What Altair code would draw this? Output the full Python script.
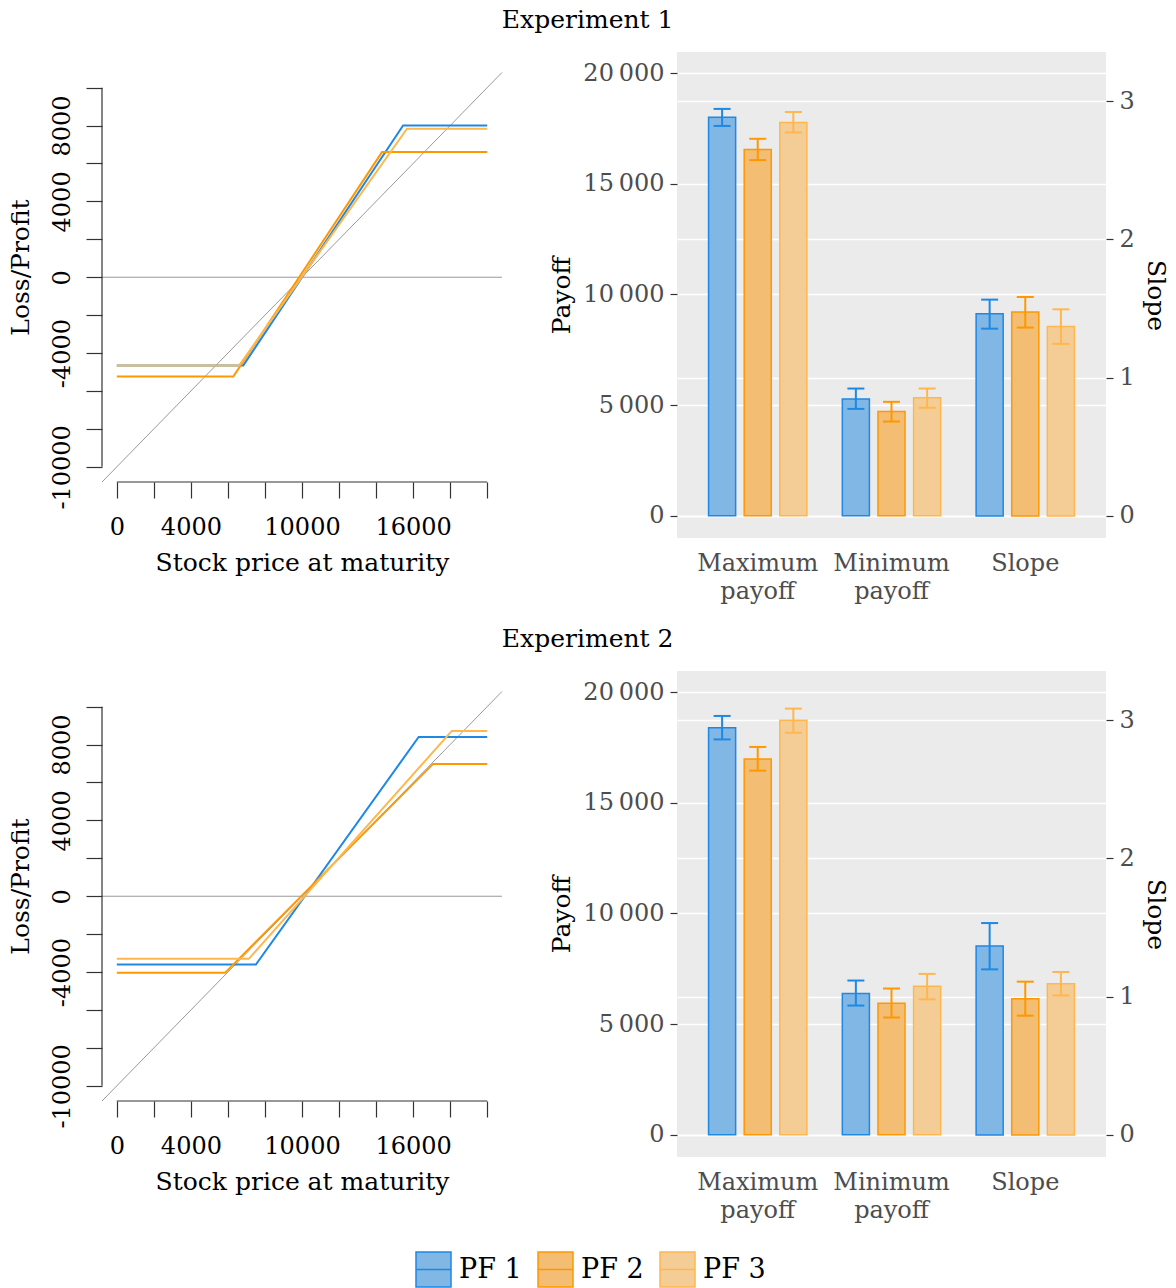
import altair as alt
import pandas as pd

FONT = "DejaVu Serif"
PF_NAMES = ["PF 1", "PF 2", "PF 3"]
PF_COLORS = ["#1E88E5", "#FF9800", "#FFB74D"]
PF_FILLS = ["#80B7E4", "#F3BE73", "#F4CD96"]
CATEGORIES = ["Maximum payoff", "Minimum payoff", "Slope"]

# ---- payoff diagrams: break points (stock price at maturity, loss/profit)
exp1_pf1_x = [0, 6830, 15460, 20000]
exp1_pf1_y = [-4650, -4650, 8000, 8000]
exp1_pf2_x = [0, 6290, 14320, 20000]
exp1_pf2_y = [-5240, -5240, 6600, 6600]
exp1_pf3_x = [0, 6610, 15670, 20000]
exp1_pf3_y = [-4650, -4650, 7830, 7830]

exp2_pf1_x = [0, 7510, 16300, 20000]
exp2_pf1_y = [-3600, -3600, 8400, 8400]
exp2_pf2_x = [0, 5840, 17080, 20000]
exp2_pf2_y = [-4040, -4040, 6980, 6980]
exp2_pf3_x = [0, 7130, 18090, 20000]
exp2_pf3_y = [-3300, -3300, 8720, 8720]

# reference lines: holding the stock (diagonal) and zero profit
stock_x = [-800, 20800]
stock_y = [-10800, 10800]
zero_x = [-800, 20800]
zero_y = [0, 0]

x_ticks = list(range(0, 20001, 2000))
x_labels = [0, 4000, 10000, 16000]
y_ticks = list(range(-10000, 10001, 2000))
y_labels = [8000, 4000, 0, -4000, -10000]

# ---- bar charts: mean and interval per category, ordered PF 1, PF 2, PF 3
exp1_max_mean = [18000, 16550, 17770]
exp1_max_lo = [17610, 16070, 17320]
exp1_max_hi = [18380, 17030, 18240]
exp1_min_mean = [5280, 4710, 5330]
exp1_min_lo = [4830, 4260, 4880]
exp1_min_hi = [5750, 5150, 5750]
exp1_slope_mean = [1.461, 1.475, 1.369]
exp1_slope_lo = [1.354, 1.362, 1.244]
exp1_slope_hi = [1.564, 1.583, 1.494]

exp2_max_mean = [18390, 16980, 18720]
exp2_max_lo = [17860, 16450, 18160]
exp2_max_hi = [18920, 17520, 19250]
exp2_min_mean = [6390, 5940, 6710]
exp2_min_lo = [5840, 5300, 6120]
exp2_min_hi = [6970, 6610, 7270]
exp2_slope_mean = [1.366, 0.985, 1.093]
exp2_slope_lo = [1.197, 0.862, 1.009]
exp2_slope_hi = [1.532, 1.108, 1.178]

payoff_ticks = [0, 5000, 10000, 15000, 20000]
slope_ticks = [0, 1, 2, 3]


def lines_df(pairs):
    rows = []
    for name, xs, ys in pairs:
        for i, (xv, yv) in enumerate(zip(xs, ys)):
            rows.append({"pf": name, "x": xv, "y": yv, "i": i})
    return pd.DataFrame(rows)


def bars_df(maxs, mins, slopes):
    rows = []
    for cat, (m, lo, hi) in zip(CATEGORIES, [maxs, mins, slopes]):
        for k, name in enumerate(PF_NAMES):
            rows.append({"cat": cat, "pf": name, "mean": m[k], "lo": lo[k], "hi": hi[k]})
    return pd.DataFrame(rows)


color_scale = alt.Scale(domain=PF_NAMES, range=PF_COLORS)
fill_scale = alt.Scale(domain=PF_NAMES, range=PF_FILLS)

legend = alt.Legend(
    orient="none", legendX=313, legendY=1199, direction="horizontal", title=None,
    symbolType="M-1,-1H1V1H-1ZM-1,0H1", symbolSize=1225, symbolStrokeWidth=1.5,
    labelFontSize=27, labelFont=FONT, labelColor="black", columnPadding=13, labelOffset=7,
)


def payoff_panel(lines):
    xs = alt.Scale(domain=[-800, 20800], nice=False, zero=False)
    ys = alt.Scale(domain=[-10800, 11880], nice=False, zero=False)
    x_axis = alt.Axis(
        values=x_ticks,
        labelExpr="indexof(%s, datum.value) >= 0 ? '' + datum.value : ''" % x_labels,
        tickSize=16, tickWidth=1.2, tickColor="#333333", domain=False, grid=False,
        labelPadding=17, labelColor="black", labelFontSize=24,
        title="Stock price at maturity", titlePadding=11, titleFontSize=25, titleColor="black",
    )
    y_axis = alt.Axis(
        values=y_ticks,
        labelExpr="indexof(%s, datum.value) >= 0 ? '' + datum.value : ''" % y_labels,
        labelAngle=270, labelAlign="center", labelBaseline="bottom",
        tickSize=16, tickWidth=1.2, tickColor="#333333", domain=False, grid=False,
        labelPadding=12, labelColor="black", labelFontSize=24,
        title="Loss/Profit", titlePadding=17, titleFontSize=25, titleColor="black",
    )
    X = alt.X("x:Q", scale=xs, axis=x_axis)
    Y = alt.Y("y:Q", scale=ys, axis=y_axis)
    ref_df = pd.DataFrame({
        "name": ["stock", "stock", "zero", "zero"],
        "x": stock_x + zero_x,
        "y": stock_y + zero_y,
    })
    ref = alt.Chart(ref_df).mark_line(color="#999999", strokeWidth=1).encode(
        x=X, y=Y, detail="name:N",
    )
    pf = alt.Chart(lines).mark_line(strokeWidth=2).encode(
        x=X, y=Y,
        stroke=alt.Stroke("pf:N", scale=color_scale, legend=legend),
        order="i:Q",
    )
    yline = alt.Chart(pd.DataFrame({"y": [min(y_ticks)], "hi": [max(y_ticks)]})).mark_rule(
        color="#333333", strokeWidth=1.2
    ).encode(x=alt.value(0), y=Y, y2="hi:Q")
    xline = alt.Chart(pd.DataFrame({"x": [min(x_ticks)], "hi": [max(x_ticks)]})).mark_rule(
        color="#333333", strokeWidth=1.2
    ).encode(y=alt.value(430), x=X, x2="hi:Q")
    return alt.layer(ref, pf, yline, xline).properties(
        width=400, height=430, view=alt.ViewBackground(strokeWidth=0)
    )


def bar_panel(bars):
    x_enc = alt.X(
        "cat:N",
        scale=alt.Scale(domain=CATEGORIES, paddingInner=0.265, paddingOuter=0.236),
        axis=alt.Axis(title=None, labelExpr="split(datum.label, ' ')", ticks=False, domain=False,
                      labelAngle=0, labelColor="#4D4D4D", labelFontSize=24, labelLineHeight=28,
                      labelPadding=13),
    )
    xo = alt.XOffset("pf:N", scale=alt.Scale(domain=PF_NAMES, paddingInner=0.24, paddingOuter=0))
    pay_scale = alt.Scale(domain=[-1000, 20950], nice=False, zero=False)
    slope_scale = alt.Scale(domain=[-0.16, 3.355], nice=False, zero=False)
    common = dict(grid=True, gridColor="white", gridWidth=1.3, tickSize=7, tickColor="#333333",
                  tickWidth=1.2, domain=False, labelColor="#4D4D4D", labelFontSize=24,
                  labelPadding=6, titleFontSize=25, titleColor="black")
    pay_axis = alt.Axis(values=payoff_ticks,
                        labelExpr="replace(format(datum.value, ','), ',', '\u2009')",
                        title="Payoff", titlePadding=8, **common)
    slope_axis = alt.Axis(values=slope_ticks, orient="right", title="Slope", titleAngle=90,
                          titlePadding=8, **common)

    def sub(df, scale, axis):
        base = alt.Chart(df).encode(x=x_enc, xOffset=xo)
        fill = alt.Fill("pf:N", scale=fill_scale, legend=legend)
        stroke = alt.Stroke("pf:N", scale=color_scale, legend=legend)
        cap = alt.Color("pf:N", scale=color_scale, legend=None)
        b = base.mark_bar(strokeWidth=1.5).encode(
            y=alt.Y("mean:Q", scale=scale, axis=axis), fill=fill, stroke=stroke,
        )
        r = base.mark_rule(strokeWidth=2).encode(
            y=alt.Y("lo:Q", scale=scale, axis=axis), y2="hi:Q", stroke=stroke,
        )
        t1 = base.mark_tick(size=17, thickness=2, opacity=1).encode(
            y=alt.Y("lo:Q", scale=scale, axis=axis), color=cap,
        )
        t2 = base.mark_tick(size=17, thickness=2, opacity=1).encode(
            y=alt.Y("hi:Q", scale=scale, axis=axis), color=cap,
        )
        return alt.layer(b, r, t1, t2)

    pay = bars[bars["cat"] != "Slope"]
    slo = bars[bars["cat"] == "Slope"]
    return alt.layer(sub(pay, pay_scale, pay_axis), sub(slo, slope_scale, slope_axis)).resolve_scale(
        y="independent"
    ).properties(width=429, height=486, view=alt.ViewBackground(fill="#EBEBEB", strokeWidth=0))


l1 = lines_df([("PF 1", exp1_pf1_x, exp1_pf1_y), ("PF 2", exp1_pf2_x, exp1_pf2_y),
               ("PF 3", exp1_pf3_x, exp1_pf3_y)])
l2 = lines_df([("PF 1", exp2_pf1_x, exp2_pf1_y), ("PF 2", exp2_pf2_x, exp2_pf2_y),
               ("PF 3", exp2_pf3_x, exp2_pf3_y)])
b1 = bars_df((exp1_max_mean, exp1_max_lo, exp1_max_hi), (exp1_min_mean, exp1_min_lo, exp1_min_hi),
             (exp1_slope_mean, exp1_slope_lo, exp1_slope_hi))
b2 = bars_df((exp2_max_mean, exp2_max_lo, exp2_max_hi), (exp2_min_mean, exp2_min_lo, exp2_min_hi),
             (exp2_slope_mean, exp2_slope_lo, exp2_slope_hi))


def row(title, lines, bars):
    return alt.hconcat(payoff_panel(lines), bar_panel(bars), spacing=45).properties(
        title=alt.Title(title, anchor="middle", fontSize=25, font=FONT, fontWeight="normal",
                        color="black", offset=19)
    )


chart = alt.vconcat(row("Experiment 1", l1, b1), row("Experiment 2", l2, b2), spacing=24).properties(
    padding=0
).configure(font=FONT).configure_view(strokeWidth=0).configure_axis(
    labelFont=FONT, titleFont=FONT, titleFontWeight="normal"
).configure_title(font=FONT, fontWeight="normal")

chart.save("out.html", embed_options={"renderer": "svg", "actions": False})
